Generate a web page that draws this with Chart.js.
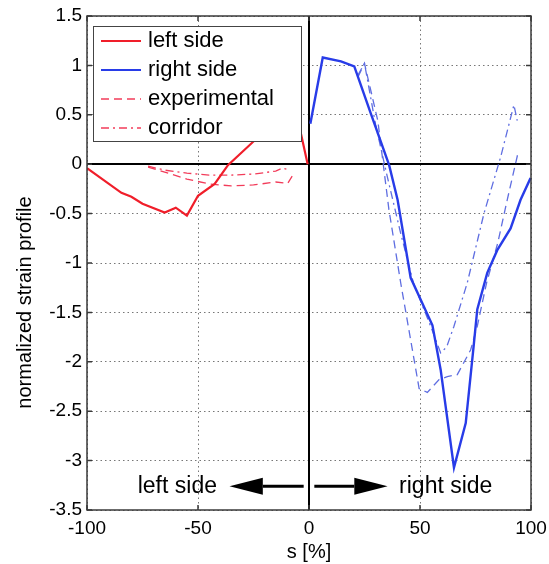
<!DOCTYPE html>
<html>
<head>
<meta charset="utf-8">
<script src="https://cdn.jsdelivr.net/npm/chart.js@4.4.0/dist/chart.umd.min.js"></script>
<style>
  body { margin: 0; background: #fff; }
  #wrap { width: 549px; height: 564px; }
</style>
</head>
<body>
<div id="wrap"><canvas id="graph-strain" width="549" height="564"></canvas></div>
<script>
// ** DATA: ** //

var leftX = [-100, -84.5, -80, -75, -65, -60, -55, -50, -42.5, -36.5, -25, -18, -10, -5, -0.6];
var leftY = [-0.04, -0.29, -0.33, -0.40, -0.49, -0.44, -0.52, -0.32, -0.20, -0.01, 0.23, 0.65, 0.95, 0.45, 0];

var rightX = [0.6, 6.2, 14.4, 20.4, 27.9, 36.1, 39.9, 45.8, 51.1, 55.6, 59.3, 65.3, 70.6, 74.3, 75.8, 80.3, 84.8, 90.8, 95.3, 99.8];
var rightY = [0.41, 1.08, 1.04, 0.99, 0.51, -0.01, -0.36, -1.15, -1.41, -1.63, -2.08, -3.07, -2.62, -1.81, -1.47, -1.10, -0.87, -0.65, -0.36, -0.14];

var leftExpX = [-72.5, -65, -55, -45, -35, -25, -15, -9.6, -7.3];
var leftExpY = [-0.03, -0.08, -0.15, -0.20, -0.22, -0.21, -0.18, -0.195, -0.11];

var leftCorX = [-72.5, -65, -55, -45, -35, -25, -15, -12, -10];
var leftCorY = [-0.02, -0.06, -0.09, -0.11, -0.11, -0.10, -0.07, -0.04, -0.05];

var rightExpX = [22, 25, 31, 36, 41.3, 49.6, 53.3, 58.6, 62.3, 66.8, 72.8, 75.8, 80, 85, 89.3, 94];
var rightExpY = [0.88, 1.02, 0.44, -0.46, -1.2, -2.27, -2.31, -2.18, -2.15, -2.13, -1.88, -1.64, -1.2, -0.8, -0.36, 0.1];

var rightCorX = [22, 25, 30, 35, 41.3, 47, 54.8, 59.3, 62, 65.3, 71.3, 78.8, 86.3, 92.3, 93.8];
var rightCorY = [0.9, 1.02, 0.4, -0.1, -0.7, -1.2, -1.64, -1.91, -1.85, -1.64, -1.2, -0.5, 0.07, 0.6, 0.44];

var xTicks = [-100, -50, 0, 50, 100];
var yTicks = [1.5, 1, 0.5, 0, -0.5, -1, -1.5, -2, -2.5, -3, -3.5];

var legendLabels = ['left side', 'right side', 'experimental', 'corridor'];

// ** FUNCTIONS: ** //

var RED = 'rgb(240,30,42)';
var RED_LIGHT = 'rgb(242,60,90)';
var BLUE = 'rgb(40,60,232)';
var BLUE_LIGHT = 'rgb(95,110,225)';
var DASH = [8, 5];
var DASHDOT = [8, 4, 2, 4];
var FONT = 'Liberation Sans, Arial, sans-serif';

function toPoints(xs, ys) {
	var pts = [];
	for (var i = 0; i < xs.length; i++) {
		pts.push({x: xs[i], y: ys[i]});
	}
	return pts;
}

function makeSet(label, xs, ys, color, width, dash) {
	return {
		label: label,
		data: toPoints(xs, ys),
		borderColor: color,
		borderWidth: width,
		borderDash: dash,
		pointRadius: 0,
		fill: false,
		tension: 0
	};
}

// zero lines, box, inward ticks
var framePlugin = {
	id: 'frame',
	beforeDatasetsDraw: function(chart) {
		var ctx = chart.ctx, a = chart.chartArea;
		var xs = chart.scales.x, ys = chart.scales.y;
		ctx.save();
		ctx.strokeStyle = '#000';
		ctx.lineWidth = 2;
		var x0 = Math.round(xs.getPixelForValue(0));
		var y0 = Math.round(ys.getPixelForValue(0));
		ctx.beginPath();
		ctx.moveTo(x0, a.top); ctx.lineTo(x0, a.bottom);
		ctx.moveTo(a.left, y0); ctx.lineTo(a.right, y0);
		ctx.stroke();
		ctx.restore();
	},
	afterDatasetsDraw: function(chart) {
		var ctx = chart.ctx, a = chart.chartArea;
		var xs = chart.scales.x, ys = chart.scales.y;
		ctx.save();
		ctx.strokeStyle = '#3a3a3a';
		ctx.lineWidth = 1.5;
		ctx.strokeRect(a.left, a.top, a.right - a.left, a.bottom - a.top);
		ctx.beginPath();
		xTicks.forEach(function(v) {
			var p = xs.getPixelForValue(v);
			ctx.moveTo(p, a.bottom); ctx.lineTo(p, a.bottom - 5);
			ctx.moveTo(p, a.top); ctx.lineTo(p, a.top + 5);
		});
		yTicks.forEach(function(v) {
			var p = ys.getPixelForValue(v);
			ctx.moveTo(a.left, p); ctx.lineTo(a.left + 5, p);
			ctx.moveTo(a.right, p); ctx.lineTo(a.right - 5, p);
		});
		ctx.stroke();
		ctx.restore();
	}
};

// legend box in the upper left corner + side arrows + y title
var notesPlugin = {
	id: 'notes',
	afterDraw: function(chart) {
		var ctx = chart.ctx, a = chart.chartArea;
		var xs = chart.scales.x, ys = chart.scales.y;
		ctx.save();

		// legend
		var bx = a.left + 6, by = a.top + 10, bw = 208, bh = 115;
		ctx.fillStyle = '#fff';
		ctx.fillRect(bx, by, bw, bh);
		ctx.strokeStyle = '#444';
		ctx.lineWidth = 1;
		ctx.strokeRect(bx + 0.5, by + 0.5, bw, bh);
		var styles = [
			{c: RED, w: 2.2, d: []},
			{c: BLUE, w: 2.2, d: []},
			{c: RED_LIGHT, w: 1.3, d: DASH},
			{c: RED_LIGHT, w: 1.3, d: DASHDOT}
		];
		ctx.font = '22px ' + FONT;
		ctx.textBaseline = 'middle';
		ctx.textAlign = 'left';
		for (var i = 0; i < legendLabels.length; i++) {
			var ry = by + 15 + i * 29;
			ctx.strokeStyle = styles[i].c;
			ctx.lineWidth = styles[i].w;
			ctx.setLineDash(styles[i].d);
			ctx.beginPath();
			ctx.moveTo(bx + 8, ry); ctx.lineTo(bx + 48, ry);
			ctx.stroke();
			ctx.setLineDash([]);
			ctx.fillStyle = '#000';
			ctx.fillText(legendLabels[i], bx + 55, ry);
		}

		// arrows
		var ay = ys.getPixelForValue(-3.26);
		ctx.fillStyle = '#000';
		ctx.strokeStyle = '#000';
		ctx.lineWidth = 3;
		function arrow(fromV, baseV, tipV) {
			var f = xs.getPixelForValue(fromV), b = xs.getPixelForValue(baseV), t = xs.getPixelForValue(tipV);
			ctx.beginPath();
			ctx.moveTo(f, ay); ctx.lineTo(b, ay);
			ctx.stroke();
			ctx.beginPath();
			ctx.moveTo(t, ay);
			ctx.lineTo(b, ay - 8.5);
			ctx.lineTo(b, ay + 8.5);
			ctx.closePath();
			ctx.fill();
		}
		arrow(-2.4, -20.8, -35.8);
		arrow(2.4, 20.4, 35.4);
		ctx.font = '23px ' + FONT;
		ctx.textAlign = 'center';
		ctx.fillText('left side', xs.getPixelForValue(-59.3), ay);
		ctx.fillText('right side', xs.getPixelForValue(61.6), ay);

		// y axis title (sits lower than the axis middle in the original)
		ctx.translate(25, ys.getPixelForValue(-1.4));
		ctx.rotate(-Math.PI / 2);
		ctx.font = '20px ' + FONT;
		ctx.fillText('normalized strain profile', 0, 0);
		ctx.restore();
	}
};

function fmt(v) {
	return String(v);
}

function generateGraph(graphID) {
	var graph = document.getElementById(graphID);
	var datasets = [
		makeSet('left side', leftX, leftY, RED, 2.2, []),
		makeSet('right side', rightX, rightY, BLUE, 2.4, []),
		makeSet('left experimental', leftExpX, leftExpY, RED_LIGHT, 1.3, DASH),
		makeSet('left corridor', leftCorX, leftCorY, RED_LIGHT, 1.3, DASHDOT),
		makeSet('right experimental', rightExpX, rightExpY, BLUE_LIGHT, 1.3, DASH),
		makeSet('right corridor', rightCorX, rightCorY, BLUE_LIGHT, 1.3, DASHDOT)
	];

	new Chart(graph, {
		type: 'line',
		data: {datasets: datasets},
		plugins: [framePlugin, notesPlugin],
		options: {
			responsive: false,
			animation: false,
			devicePixelRatio: 1,
			layout: {padding: {top: 16, right: 18, left: 0, bottom: 0}},
			plugins: {legend: {display: false}, tooltip: {enabled: false}},
			scales: {
				x: {
					type: 'linear',
					min: -100, max: 100,
					afterBuildTicks: function(s) { s.ticks = xTicks.map(function(v) { return {value: v}; }); },
					afterFit: function(s) { s.height = 54; s.paddingLeft = 0; s.paddingRight = 0; },
					ticks: {color: '#000', font: {family: FONT, size: 19}, padding: 7, maxRotation: 0, callback: fmt},
					grid: {color: '#777', lineWidth: 1, drawTicks: false},
					border: {display: false, dash: [1.5, 3]},
					title: {display: true, text: 's [%]', color: '#000', font: {family: FONT, size: 20}, padding: {top: 0, bottom: 0}}
				},
				y: {
					type: 'linear',
					min: -3.5, max: 1.5,
					afterBuildTicks: function(s) { s.ticks = yTicks.map(function(v) { return {value: v}; }); },
					afterFit: function(s) { s.width = 87; s.paddingTop = 0; s.paddingBottom = 0; },
					ticks: {color: '#000', font: {family: FONT, size: 19}, padding: 5, callback: fmt},
					grid: {color: '#777', lineWidth: 1, drawTicks: false},
					border: {display: false, dash: [1.5, 3]},
					title: {display: false}
				}
			}
		}
	});
}

// ** ENTRY POINT: ** //

generateGraph('graph-strain');
</script>
</body>
</html>
